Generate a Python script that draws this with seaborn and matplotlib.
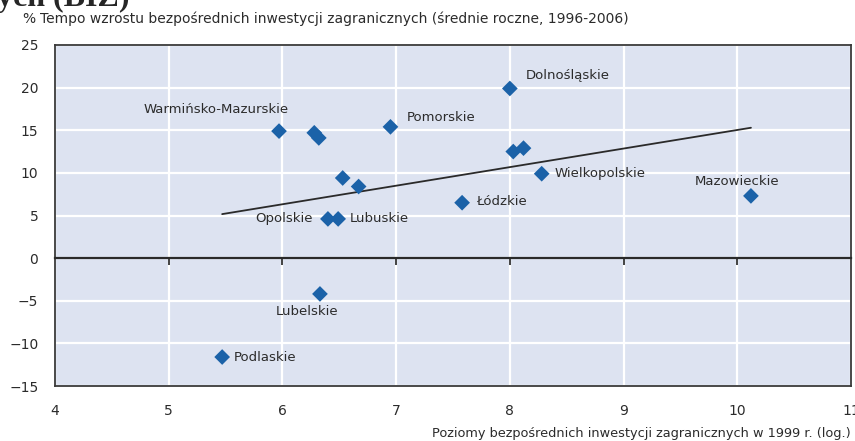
import matplotlib
matplotlib.use("Agg")
import pandas as pd
import matplotlib.pyplot as plt
import seaborn as sns

# voivodeships: FDI level 1999 (log) vs FDI growth 1996-2006 (%)
regions = ["Warmińsko-Mazurskie", "Kujawsko-Pomorskie", "Zachodniopomorskie",
           "Pomorskie", "Podkarpackie", "Świętokrzyskie", "Opolskie", "Lubuskie",
           "Dolnośląskie", "Śląskie", "Małopolskie", "Wielkopolskie", "Łódzkie",
           "Mazowieckie", "Lubelskie", "Podlaskie"]
fdi_level = [5.97, 6.28, 6.32, 6.95, 6.53, 6.67, 6.40, 6.49,
             8.00, 8.03, 8.12, 8.28, 7.58, 10.12, 6.33, 5.47]
fdi_growth = [14.9, 14.7, 14.1, 15.4, 9.4, 8.4, 4.6, 4.6,
              19.9, 12.5, 12.9, 9.9, 6.5, 7.3, -4.2, -11.6]
shown = ["Warmińsko-Mazurskie", "Pomorskie", "Opolskie", "Lubuskie", "Dolnośląskie",
         "Wielkopolskie", "Łódzkie", "Mazowieckie", "Lubelskie", "Podlaskie"]

x_ticks = [4, 5, 6, 7, 8, 9, 10, 11]
y_ticks = [-15, -10, -5, 0, 5, 10, 15, 20, 25]

title = "Tempo wzrostu bezpośrednich inwestycji zagranicznych (średnie roczne, 1996-2006)"
xlabel = "Poziomy bezpośrednich inwestycji zagranicznych w 1999 r. (log.)"

df = pd.DataFrame({"region": regions, "level": fdi_level, "growth": fdi_growth})

# label placement: (dx, dy) in pixels, horizontal alignment
label_pos = {
    "Warmińsko-Mazurskie": (10, 22, "right"),
    "Pomorskie": (16, 9, "left"),
    "Opolskie": (-15, 0, "right"),
    "Lubuskie": (12, 0, "left"),
    "Dolnośląskie": (16, 13, "left"),
    "Wielkopolskie": (13, 0, "left"),
    "Łódzkie": (14, 1, "left"),
    "Mazowieckie": (-14, 14, "center"),
    "Lubelskie": (-13, -18, "center"),
    "Podlaskie": (12, 0, "left"),
}

blue = "#1b62a8"
bg = "#dde3f1"
frame = "#3a3a3a"
txt = "#2b2b2b"

sns.set_style("white")
plt.rcParams["font.family"] = ["DejaVu Sans"]

fig = plt.figure(figsize=(8.55, 4.41), dpi=100)
ax = fig.add_axes([55 / 855, 55 / 441, 796 / 855, 341 / 441])
ax.set_facecolor(bg)

sns.regplot(data=df, x="level", y="growth", scatter=False, ci=None, truncate=True,
            color="#2a2a2a", line_kws={"lw": 1.3}, ax=ax)
sns.scatterplot(data=df, x="level", y="growth", marker="D", s=64, color=blue,
                edgecolor="none", zorder=4, ax=ax)

for _, r in df.iterrows():
    if r["region"] in shown:
        dx, dy, ha = label_pos[r["region"]]
        ax.annotate(r["region"], (r["level"], r["growth"]), xytext=(dx, dy),
                    textcoords="offset pixels", ha=ha, va="center",
                    fontsize=9.5, color=txt)

ax.set_xlim(4, 11)
ax.set_ylim(-15, 25)
ax.set_xticks(x_ticks)
ax.set_yticks(y_ticks)
ax.grid(True, color="white", lw=1.6)
ax.set_axisbelow(True)
ax.set_xlabel("")
ax.set_ylabel("")
ax.tick_params(axis="x", length=0, pad=13, labelsize=10, colors=txt)
ax.tick_params(axis="y", direction="in", length=4, width=1, pad=12,
               labelsize=10, colors=txt)
for s in ax.spines.values():
    s.set_color(frame)
    s.set_linewidth(1.3)

# axis line at zero with its ticks
sec = ax.secondary_xaxis(0, transform=ax.transData)
sec.set_zorder(3)
sec.set_xticks(x_ticks[1:-1])
sec.tick_params(direction="out", length=5, width=1.2, color="#222222", labelbottom=False)
sec.spines["bottom"].set_visible(True)
sec.spines["bottom"].set_color("#2a2a2a")
sec.spines["bottom"].set_linewidth(1.6)

fig.text(22 / 855, 1 - 19 / 441, "%", fontsize=10, va="center", color=txt)
fig.text(40 / 855, 1 - 19 / 441, title, fontsize=10, va="center", color=txt)
fig.text(851 / 855, 1 - 434 / 441, xlabel, fontsize=9.3, va="center", ha="right",
         color=txt)
fig.text(-0.003, 1 - 6 / 441, "ych (BIZ)", fontsize=23, fontweight="bold",
         family="Liberation Serif", va="baseline", ha="left")

fig.savefig("out.png", dpi=100)
